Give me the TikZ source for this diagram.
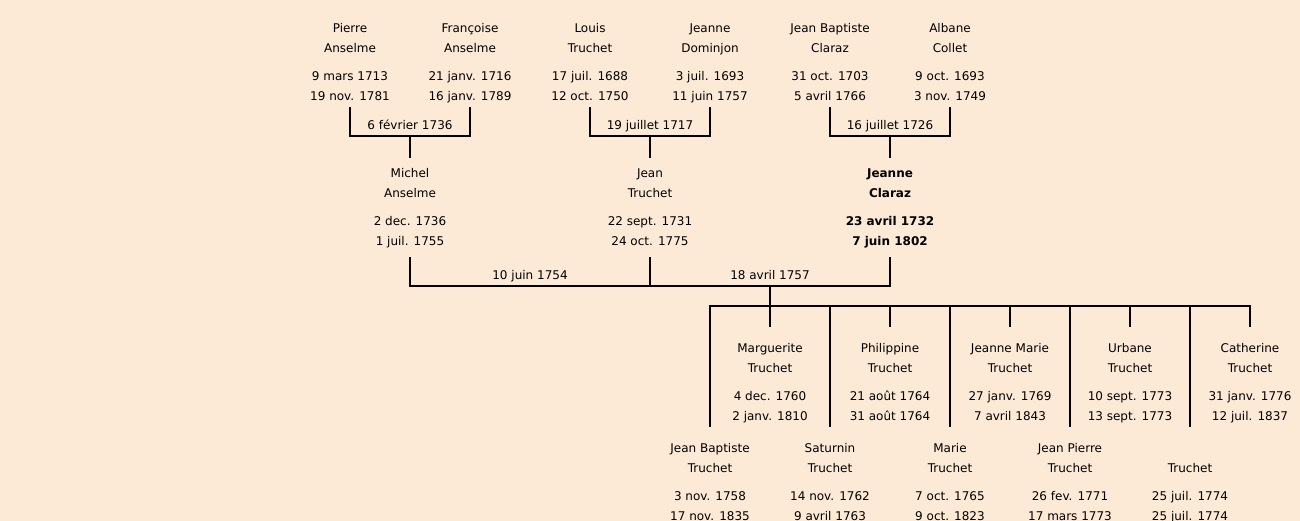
\documentclass[tikz,border=0pt]{standalone}
\usepackage{fontspec}
\setmainfont{DejaVu Sans}
\usetikzlibrary{calc}
\definecolor{bg}{HTML}{FCEAD7}
\begin{document}
\begin{tikzpicture}[x=1pt,y=-1pt,
  person/.style={align=center,inner sep=0pt,font=\fontsize{12}{20}\selectfont},
  lbl/.style={inner sep=0pt,font=\fontsize{12}{14}\selectfont,anchor=base,yshift=6.5pt},
  link/.style={line width=2pt,line cap=rect}]
\fill[bg] (0,0) rectangle (1300,521);
\useasboundingbox (0,0) rectangle (1300,521);
\newcommand{\pp}[4]{\strut#1\\\strut#2\\[8pt]\strut#3\\\strut#4}
% generation 1
\node[person] (pierre) at (350,62.5) {\pp{Pierre}{Anselme}{9 mars 1713}{19 nov. 1781}};
\node[person] (francoise) at (470,62.5) {\pp{Françoise}{Anselme}{21 janv. 1716}{16 janv. 1789}};
\node[person] (louis) at (590,62.5) {\pp{Louis}{Truchet}{17 juil. 1688}{12 oct. 1750}};
\node[person] (jeanned) at (710,62.5) {\pp{Jeanne}{Dominjon}{3 juil. 1693}{11 juin 1757}};
\node[person] (jbc) at (830,62.5) {\pp{Jean Baptiste}{Claraz}{31 oct. 1703}{5 avril 1766}};
\node[person] (albane) at (950,62.5) {\pp{Albane}{Collet}{9 oct. 1693}{3 nov. 1749}};
% generation 2
\node[person] (michel) at (410,207.5) {\pp{Michel}{Anselme}{2 dec. 1736}{1 juil. 1755}};
\node[person] (jean) at (650,207.5) {\pp{Jean}{Truchet}{22 sept. 1731}{24 oct. 1775}};
\node[person,font=\fontsize{12}{20}\selectfont\bfseries] (jeannec) at (890,207.5) {\pp{Jeanne}{Claraz}{23 avril 1732}{7 juin 1802}};
% generation 3, upper row
\node[person] (marguerite) at (770,382.5) {\pp{Marguerite}{Truchet}{4 dec. 1760}{2 janv. 1810}};
\node[person] (philippine) at (890,382.5) {\pp{Philippine}{Truchet}{21 août 1764}{31 août 1764}};
\node[person] (jeannem) at (1010,382.5) {\pp{Jeanne Marie}{Truchet}{27 janv. 1769}{7 avril 1843}};
\node[person] (urbane) at (1130,382.5) {\pp{Urbane}{Truchet}{10 sept. 1773}{13 sept. 1773}};
\node[person] (catherine) at (1250,382.5) {\pp{Catherine}{Truchet}{31 janv. 1776}{12 juil. 1837}};
% generation 3, lower row
\node[person] (jbt) at (710,482.5) {\pp{Jean Baptiste}{Truchet}{3 nov. 1758}{17 nov. 1835}};
\node[person] (saturnin) at (830,482.5) {\pp{Saturnin}{Truchet}{14 nov. 1762}{9 avril 1763}};
\node[person] (marie) at (950,482.5) {\pp{Marie}{Truchet}{7 oct. 1765}{9 oct. 1823}};
\node[person] (jeanp) at (1070,482.5) {\pp{Jean Pierre}{Truchet}{26 fev. 1771}{17 mars 1773}};
\node[person] (truchet) at (1190,482.5) {\pp{}{Truchet}{25 juil. 1774}{25 juil. 1774}};
% marriages generation 1
\foreach \a/\b/\c/\d in {pierre/francoise/michel/6 février 1736,
                         louis/jeanned/jean/19 juillet 1717,
                         jbc/albane/jeannec/16 juillet 1726}{
  \coordinate (m-\c) at ($([yshift=-1.5pt]\a.south)!0.5!([yshift=-1.5pt]\b.south)+(0,28)$);
  \draw[link] ([yshift=-1.5pt]\a.south) |- (m-\c) -| ([yshift=-1.5pt]\b.south);
  \draw[link] (m-\c) -- ([yshift=6.5pt]\c.north);
  \node[lbl] at (m-\c) {\d};
}
% marriages generation 2
\coordinate (m4) at ($([yshift=-6.5pt]jean.south)!0.5!([yshift=-6.5pt]jeannec.south)+(0,28)$);
\coordinate (m5) at ($([yshift=-6.5pt]michel.south)!0.5!([yshift=-6.5pt]jean.south)+(0,28)$);
\draw[link] ([yshift=-6.5pt]michel.south) |- (m4) -| ([yshift=-6.5pt]jeannec.south);
\draw[link] ([yshift=-6.5pt]jean.south) -- (jean.south |- m4);
\node[lbl] at (m5) {10 juin 1754};
\node[lbl] at (m4) {18 avril 1757};
\coordinate (bar) at ($(m4)+(0,20)$);
\draw[link] (m4) -- (bar);
\draw[link] (bar -| jbt.north) -- (bar -| catherine.north);
\foreach \k in {marguerite,philippine,jeannem,urbane,catherine,jbt,saturnin,marie,jeanp,truchet}
  \draw[link] (bar -| \k.north) -- ([yshift=12.5pt]\k.north);
\end{tikzpicture}
\end{document}
